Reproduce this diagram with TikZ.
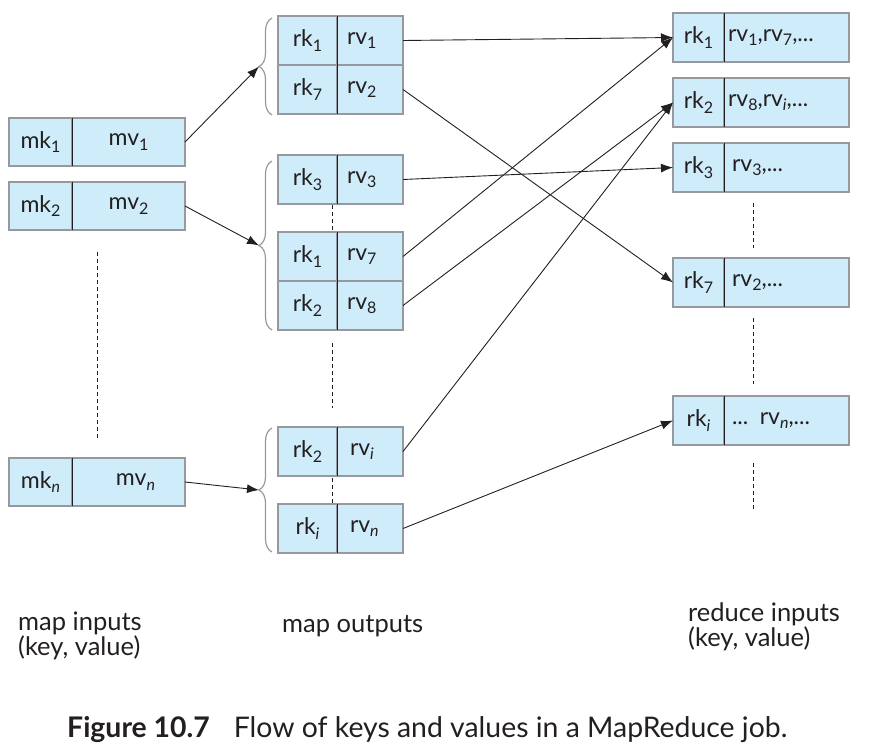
\documentclass[tikz,border=0pt]{standalone}
\usepackage{fontspec}
\setmainfont{Lato}
\usetikzlibrary{arrows.meta,decorations.pathreplacing}
\definecolor{boxfill}{RGB}{206,236,249}
\definecolor{boxline}{RGB}{150,154,158}
\definecolor{ink}{RGB}{35,31,32}
\newcommand{\sbs}[1]{\raisebox{-4.5pt}{\fontsize{16}{16}\selectfont #1}}
\begin{document}
\begin{tikzpicture}[x=1pt,y=-1pt,
  cell/.style={draw=boxline, fill=boxfill, line width=1.1pt, inner sep=0pt, outer sep=0pt,
    text=ink, font=\fontsize{23}{26}\selectfont},
  lkey/.style={cell, minimum width=63pt, minimum height=48pt, anchor=north west},
  lval/.style={cell, minimum width=113pt, minimum height=48pt, anchor=north west},
  mkey/.style={cell, minimum width=59pt, minimum height=49pt, anchor=north west},
  mval/.style={cell, text width=46pt, inner xsep=10pt, align=left, minimum height=49pt, anchor=north west},
  rkey/.style={cell, minimum width=51pt, minimum height=49pt, anchor=north west},
  rval/.style={cell, text width=117pt, inner xsep=4pt, align=left, minimum height=49pt, anchor=north west},
  divider/.style={draw=ink, line width=0.9pt},
  dots/.style={draw=ink, line width=0.9pt, dash pattern=on 4pt off 3pt},
  arr/.style={draw=ink, line width=0.9pt, -{Latex[length=12pt,width=9pt]}},
  brc/.style={draw=boxline, line width=1.2pt, decorate, decoration={brace, amplitude=13pt}},
  lbl/.style={text=ink, font=\fontsize{25.5}{25}\selectfont, inner sep=0pt, align=left}
]
\useasboundingbox (0,0) rectangle (872,744);

% map inputs
\node[lkey] (mk1) at (9,118) {mk\sbs{1}};
\node[lval] (mv1) at (mk1.north east) {mv\sbs{1}};
\node[lkey] (mk2) at (9,182) {mk\sbs{2}};
\node[lval] (mv2) at (mk2.north east) {mv\sbs{2}};
\node[lkey] (mkn) at (9,458) {mk\sbs{\itshape n}};
\node[lval] (mvn) at (mkn.north east) {\hspace{14pt}mv\sbs{\itshape n}};
\foreach \k in {mk1,mk2,mkn} \draw[divider] (\k.north east) -- (\k.south east);
\coordinate (ld1) at (97,252);
\coordinate (ld2) at (97,438);
\draw[dots] (ld1) -- (ld2);

% map outputs
\node[mkey] (ka) at (278,16) {rk\sbs{1}};
\node[mval] (va) at (ka.north east) {rv\sbs{1}};
\node[mkey] (kb) at (ka.south west) {rk\sbs{7}};
\node[mval] (vb) at (kb.north east) {rv\sbs{2}};
\node[mkey] (kc) at (278,155) {rk\sbs{3}};
\node[mval] (vc) at (kc.north east) {rv\sbs{3}};
\node[mkey] (kd) at (278,232) {rk\sbs{1}};
\node[mval] (vd) at (kd.north east) {rv\sbs{7}};
\node[mkey] (ke) at (kd.south west) {rk\sbs{2}};
\node[mval] (ve) at (ke.north east) {rv\sbs{8}};
\node[mkey] (kf) at (278,427) {rk\sbs{2}};
\node[mval] (vf) at (kf.north east) {\hspace{3pt}rv\sbs{\itshape i}};
\node[mkey] (kg) at (278,504) {rk\sbs{\itshape i}};
\node[mval] (vg) at (kg.north east) {\hspace{3pt}rv\sbs{\itshape n}};
\foreach \k in {ka,kb,kc,kd,ke,kf,kg} \draw[divider] (\k.north east) -- (\k.south east);
\coordinate (md1) at (332,205);
\coordinate (md2) at (332,231);
\coordinate (md3) at (332,343);
\coordinate (md4) at (332,408);
\coordinate (md5) at (332,478);
\coordinate (md6) at (332,503);
\draw[dots] (md1) -- (md2);
\draw[dots] (md3) -- (md4);
\draw[dots] (md5) -- (md6);

% braces
\draw[brc] (272,115) -- (272,18);
\draw[brc] (272,330) -- (272,161);
\draw[brc] (272,552) -- (272,428);
\coordinate (b1) at (259,66.5);
\coordinate (b2) at (259,245.5);
\coordinate (b3) at (259,490);

% reduce inputs
\node[rkey] (r1) at (673,13) {rk\sbs{1}};
\node[rval] (s1) at (r1.north east) {rv\sbs{1},rv\sbs{7},...};
\node[rkey] (r2) at (673,78) {rk\sbs{2}};
\node[rval] (s2) at (r2.north east) {rv\sbs{8},rv\sbs{\itshape i},...};
\node[rkey] (r3) at (673,143) {rk\sbs{3}};
\node[rval] (s3) at (r3.north east) {\hspace{4pt}rv\sbs{3},...};
\node[rkey] (r7) at (673,258) {rk\sbs{7}};
\node[rval] (s7) at (r7.north east) {\hspace{4pt}rv\sbs{2},...};
\node[rkey] (ri) at (673,396) {rk\sbs{\itshape i}};
\node[rval] (si) at (ri.north east) {\hspace{4pt}... rv\sbs{\itshape n},...};
\foreach \k in {r1,r2,r3,r7,ri} \draw[divider] (\k.north east) -- (\k.south east);
\coordinate (rd1) at (753,203);
\coordinate (rd2) at (753,248);
\coordinate (rd3) at (753,318);
\coordinate (rd4) at (753,384);
\coordinate (rd5) at (753,463);
\coordinate (rd6) at (753,510);
\draw[dots] (rd1) -- (rd2);
\draw[dots] (rd3) -- (rd4);
\draw[dots] (rd5) -- (rd6);

% arrows
\draw[arr] (mv1.east) -- (b1);
\draw[arr] (mv2.east) -- (b2);
\draw[arr] (mvn.east) -- (b3);
\draw[arr] (va.east) -- (r1.west);
\draw[arr] (vb.east) -- (r7.west);
\draw[arr] (vc.east) -- (r3.west);
\draw[arr] (vd.east) -- (r1.west);
\draw[arr] (ve.east) -- (r2.west);
\draw[arr] (vf.east) -- (r2.west);
\draw[arr] (vg.east) -- (ri.west);

% labels
\node[lbl, anchor=north west] (l1) at (18,612) {map inputs\\(key, value)};
\node[lbl, anchor=north west] (l2) at (282,615) {map outputs};
\node[lbl, anchor=north west] (l3) at (688,603) {reduce inputs\\(key, value)};
\node[text=ink, inner sep=0pt, anchor=base west, font=\fontsize{28.4}{30}\selectfont] (cap) at (67,737)
  {\textbf{Figure 10.7}\hspace{24pt}Flow of keys and values in a MapReduce job.};
\end{tikzpicture}
\end{document}
